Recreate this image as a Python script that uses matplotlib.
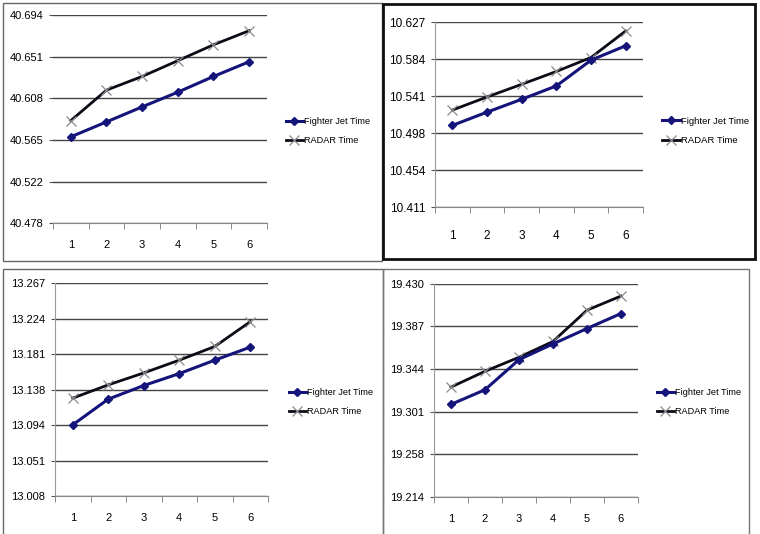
import numpy as np
import matplotlib
matplotlib.use("Agg")
from matplotlib import pyplot as plt
from matplotlib.patches import Rectangle

plt.rcParams['font.family'] = ['Liberation Sans', 'DejaVu Sans']

x = [1, 2, 3, 4, 5, 6]

# top-left
fj1 = [40.5678, 40.5833, 40.5989, 40.6142, 40.6305, 40.6458]
rd1 = [40.5847, 40.6163, 40.6305, 40.6469, 40.6634, 40.6780]
yt1 = ['40.478', '40.522', '40.565', '40.608', '40.651', '40.694']
# top-right
fj2 = [10.5066, 10.5221, 10.5371, 10.5527, 10.5828, 10.5996]
rd2 = [10.5245, 10.5398, 10.5546, 10.5696, 10.5859, 10.6169]
yt2 = ['10.411', '10.454', '10.498', '10.541', '10.584', '10.627']
# bottom-left
fj3 = [13.0948, 13.1260, 13.1425, 13.1570, 13.1733, 13.1891]
rd3 = [13.1272, 13.1433, 13.1578, 13.1733, 13.1899, 13.2200]
yt3 = ['13.008', '13.051', '13.094', '13.138', '13.181', '13.224', '13.267']
# bottom-right
fj4 = [19.3078, 19.3226, 19.3531, 19.3690, 19.3846, 19.3998]
rd4 = [19.3253, 19.3413, 19.3555, 19.3715, 19.4032, 19.4175]
yt4 = ['19.214', '19.258', '19.301', '19.344', '19.387', '19.430']

W, H = 760, 534
fig = plt.figure(figsize=(W/100, H/100), dpi=100)

def box(l, t, r, b, lw, col):
    fig.add_artist(Rectangle((l/W, 1-b/H), (r-l)/W, (b-t)/H, transform=fig.transFigure,
                             fill=False, lw=lw, edgecolor=col, clip_on=False))

def panel(pos, fj, rd, yt, leg, show_left=True, tfs=8, lfs=6.6, xpad=12):
    l, t, r, b = pos
    ax = fig.add_axes([l/W, 1-b/H, (r-l)/W, (b-t)/H])
    lo, hi = float(yt[0]), float(yt[-1])
    ticks = np.linspace(lo, hi, len(yt))
    ax.set_ylim(lo, hi)
    ax.set_yticks(ticks)
    ax.set_yticklabels(yt, fontsize=tfs)
    ax.set_xlim(0.5, 6.5)
    ax.set_xticks(x)
    ax.set_xticklabels([str(v) for v in x], fontsize=tfs)
    ax.set_xticks(np.arange(0.5, 7, 1), minor=True)
    ax.tick_params(axis='x', which='major', length=0, pad=xpad)
    ax.tick_params(axis='x', which='minor', length=4, color='#777777')
    ax.tick_params(axis='y', length=3, color='#555555', pad=4)
    ax.yaxis.grid(True, color='#444444', lw=1)
    for s in ['top', 'right']:
        ax.spines[s].set_visible(False)
    ax.spines['bottom'].set_color('#888888')
    ax.spines['left'].set_color('#999999')
    ax.spines['left'].set_visible(show_left)
    ax.plot(x, rd, color='#0c0c18', lw=2, marker='x', ms=7, mec='#8a8a8a', mew=0.9,
            label='RADAR Time', zorder=3)
    ax.plot(x, fj, color='#14147a', lw=2.2, marker='D', ms=4.5, label='Fighter Jet Time', zorder=4)
    h, lab = ax.get_legend_handles_labels()
    fig.legend(h[::-1], lab[::-1], loc='center left',
               bbox_to_anchor=(leg[0]/W, 1-leg[1]/H), frameon=False,
               fontsize=lfs, handlelength=1.9, handletextpad=0.15,
               labelspacing=1.1, borderpad=0)
    return ax

panel((53, 15.3, 267, 223.3), fj1, rd1, yt1, (281, 131), show_left=False)
panel((435, 22.3, 643, 207.3), fj2, rd2, yt2, (657, 131), tfs=8.5, lfs=6.8, xpad=16)
panel((55, 283, 268, 496.3), fj3, rd3, yt3, (284, 402))
panel((434, 283.7, 638, 497), fj4, rd4, yt4, (652, 402))

box(2.5, 2.5, 382, 261, 1, '#666666')
box(383, 4, 755, 259, 2, '#111111')
box(2.5, 269, 383, 540, 1, '#666666')
box(383, 269, 749, 540, 1, '#777777')

fig.savefig('out.png', dpi=100)
